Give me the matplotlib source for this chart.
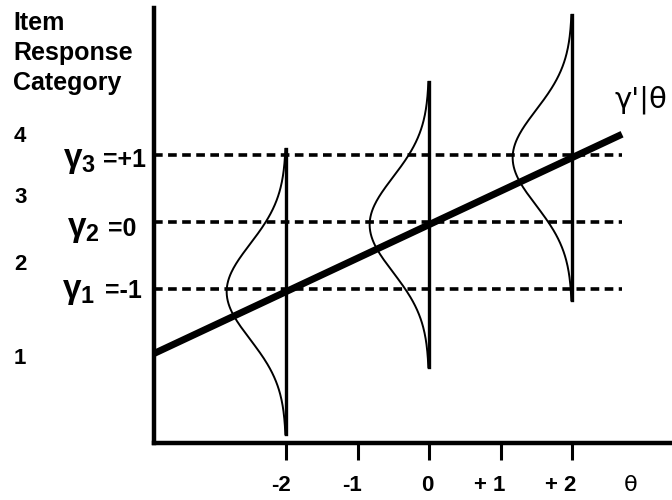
import numpy as np
import matplotlib
matplotlib.use("Agg")
import matplotlib.pyplot as plt
from matplotlib.transforms import ScaledTranslation

plt.rcParams['font.family'] = ['Liberation Sans', 'DejaVu Sans']
plt.rcParams['mathtext.fontset'] = 'custom'
plt.rcParams['mathtext.rm'] = 'Liberation Sans'
plt.rcParams['mathtext.it'] = 'Liberation Sans:bold'
plt.rcParams['mathtext.bf'] = 'Liberation Sans:bold'

# theta axis
theta_ticks = [-2, -1, 0, 1, 2]
theta_labels = ['-2', '-1', '0', '+ 1', '+ 2']

# thresholds on the latent response scale
thresholds = [-1, 0, 1]
threshold_names = [r'$\gamma_{\mathbf{1}}$', r'$\gamma_{\mathbf{2}}$', r'$\gamma_{\mathbf{3}}$']
threshold_values = ['=-1', '=0', '=+1']

# response categories and where they sit on the latent scale
categories = ['1', '2', '3', '4']
category_pos = [-2.03, -0.64, 0.36, 1.27]

# regression of latent response on theta
slope = 0.5
intercept = -0.04
line_theta = [-3.86, 2.70]

# conditional distributions drawn at these theta values
dist_theta = [-2, 0, 2]
dist_sd = 0.71
dist_width = 0.83

# pixel -> data helpers (reference is 672x500)
def px_x(p):
    return (p - 429) / 71.5

def px_y(p):
    return (222 - p) / 67

fig = plt.figure(figsize=(6.72, 5.0), dpi=100)
ax = fig.add_axes([154 / 672, 57 / 500, 518 / 672, 435 / 500])
xlim = (px_x(154), px_x(672))
ylim = (px_y(443), px_y(8))
ax.set_xlim(xlim)
ax.set_ylim(ylim)

for s in ['top', 'right']:
    ax.spines[s].set_visible(False)
ax.spines['left'].set_linewidth(3.2)
ax.spines['bottom'].set_linewidth(3.2)
ax.set_yticks([])
ax.set_xticks(theta_ticks)
ax.set_xticklabels(theta_labels, fontsize=16, fontweight='bold')
ax.tick_params(axis='x', bottom=True, direction='out', length=12, width=2.2,
               color='black', pad=11)
# digits sit on the ticks, signs hang to the left
shift = ScaledTranslation(3.5 / 72, 0, fig.dpi_scale_trans)
for lab in ax.get_xticklabels():
    lab.set_horizontalalignment('right')
    lab.set_transform(lab.get_transform() + shift)

# dashed threshold lines
for t in thresholds:
    ax.plot([xlim[0], line_theta[1]], [t, t], color='black', lw=2.6,
            linestyle=(0, (2.4, 1.5)), solid_capstyle='butt')

# regression line
lx = np.array(line_theta)
ax.plot(lx, intercept + slope * lx, color='black', lw=5, solid_capstyle='butt')

# sideways normal curves
z = np.linspace(-3, 3, 200)
for th in dist_theta:
    mu = intercept + slope * th
    ax.plot([th, th], [mu - 3 * dist_sd, mu + 3 * dist_sd], color='black', lw=2.4)
    ax.plot(th - dist_width * np.exp(-0.5 * z ** 2), mu + dist_sd * z,
            color='black', lw=1.4)

# threshold labels: gamma part and value part
name_left = [62, 67, 63]
value_left = [105, 108, 103]
baseline = [298, 236, 167]
for name, val, nl, vl, b in zip(threshold_names, threshold_values,
                                name_left, value_left, baseline):
    ax.text(px_x(nl), px_y(b), name, fontsize=24, ha='left', va='baseline',
            clip_on=False)
    ax.text(px_x(vl), px_y(b), val, fontsize=18, fontweight='bold',
            ha='left', va='baseline', clip_on=False)

for lab, p in zip(categories, category_pos):
    ax.text(px_x(14), p, lab, fontsize=16, fontweight='bold',
            ha='left', va='center', clip_on=False)
ax.text(px_x(13), px_y(11), 'Item\nResponse\nCategory',
        fontsize=18, fontweight='bold', ha='left', va='top', linespacing=1.32,
        clip_on=False)
ax.text(px_x(641), px_y(100), "γ'|θ", fontsize=21,
        ha='center', va='center', family='DejaVu Sans', clip_on=False)
ax.text(px_x(631), px_y(485), 'θ', fontsize=16,
        ha='center', va='center', family='DejaVu Sans', clip_on=False)

fig.savefig('out.png', dpi=100)
